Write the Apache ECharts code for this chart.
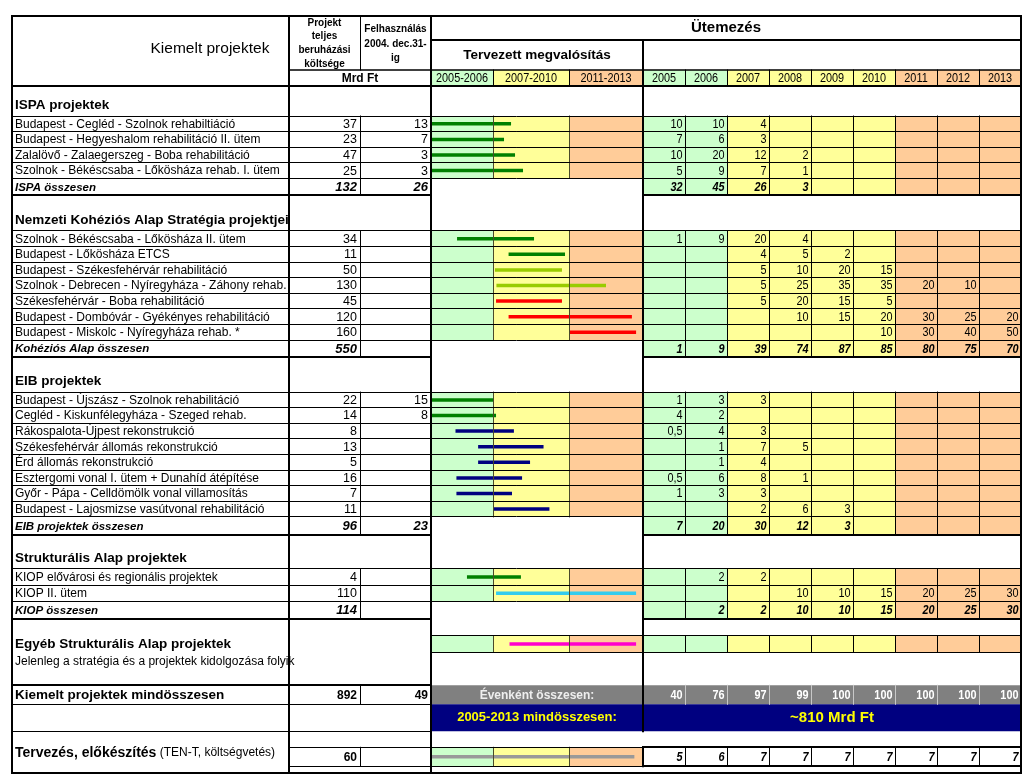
<!DOCTYPE html>
<html><head><meta charset="utf-8">
<script src="https://cdn.jsdelivr.net/npm/echarts@6/dist/echarts.min.js"></script>
<style>html,body{margin:0;padding:0;background:#fff}#c{width:1023px;height:776px}</style>
</head><body><div id="c"></div>
<script>
// ================= DATA =================
const years = ['2005','2006','2007','2008','2009','2010','2011','2012','2013'];
const periods = ['2005-2006','2007-2010','2011-2013'];
const periodStartYear = [2005, 2007, 2011, 2014];

const ispaTitle = 'ISPA projektek';
const ispaNames = ['Budapest - Cegléd - Szolnok rehabiltiáció','Budapest - Hegyeshalom rehabilitáció II. ütem','Zalalövő - Zalaegerszeg - Boba rehabilitáció','Szolnok - Békéscsaba - Lőkösháza rehab. I. ütem'];
const ispaCost = [37, 23, 47, 25];
const ispaUsed = [13, 7, 3, 3];
const ispaYearly = [
  [10,10,4,null,null,null,null,null,null],
  [7,6,3,null,null,null,null,null,null],
  [10,20,12,2,null,null,null,null,null],
  [5,9,7,1,null,null,null,null,null]];
const ispaStart = [2005, 2005, 2005, 2005];
const ispaEnd = [2007.95, 2007.58, 2008.16, 2008.58];
const ispaBarKind = ['green','green','green','green'];
const ispaTotal = ['ISPA összesen', 132, 26];
const ispaTotalYearly = [32,45,26,3,null,null,null,null,null];

const nkaTitle = 'Nemzeti Kohéziós Alap Stratégia projektjei';
const nkaNames = ['Szolnok - Békéscsaba - Lőkösháza II. ütem','Budapest - Lőkösháza ETCS','Budapest - Székesfehérvár rehabilitáció','Szolnok - Debrecen - Nyíregyháza - Záhony rehab.','Székesfehérvár - Boba rehabilitáció','Budapest - Dombóvár - Gyékényes rehabilitáció','Budapest - Miskolc - Nyíregyháza rehab. *'];
const nkaCost = [34, 11, 50, 130, 45, 120, 160];
const nkaYearly = [
  [1,9,20,4,null,null,null,null,null],
  [null,null,4,5,2,null,null,null,null],
  [null,null,5,10,20,15,null,null,null],
  [null,null,5,25,35,35,20,10,null],
  [null,null,5,20,15,5,null,null,null],
  [null,null,null,10,15,20,30,25,20],
  [null,null,null,null,null,10,30,40,50]];
const nkaStart = [2005.84, 2007.82, 2007.1, 2007.18, 2007.16, 2007.82, 2011.04];
const nkaEnd = [2009.16, 2010.79, 2010.63, 2012.5, 2010.63, 2013.55, 2013.72];
const nkaBarKind = ['green','green','lime','lime','red','red','red'];
const nkaTotal = ['Kohéziós Alap összesen', 550, null];
const nkaTotalYearly = [1,9,39,74,87,85,80,75,70];

const eibTitle = 'EIB projektek';
const eibNames = ['Budapest - Újszász - Szolnok rehabilitáció','Cegléd - Kiskunfélegyháza - Szeged rehab.','Rákospalota-Újpest rekonstrukció','Székesfehérvár állomás rekonstrukció','Érd állomás rekonstrukció','Esztergomi vonal I. ütem + Dunahíd átépítése','Győr - Pápa - Celldömölk vonal villamosítás','Budapest - Lajosmizse vasútvonal rehabilitáció'];
const eibCost = [22, 14, 8, 13, 5, 16, 7, 11];
const eibUsed = [15, 8, null, null, null, null, null, null];
const eibYearly = [
  [1,3,3,null,null,null,null,null,null],
  [4,2,null,null,null,null,null,null,null],
  [0.5,4,3,null,null,null,null,null,null],
  [null,1,7,5,null,null,null,null,null],
  [null,1,4,null,null,null,null,null,null],
  [0.5,6,8,1,null,null,null,null,null],
  [1,3,3,null,null,null,null,null,null],
  [null,null,2,6,3,null,null,null,null]];
const eibStart = [2005, 2005, 2005.79, 2006.52, 2006.52, 2005.82, 2005.82, 2007.05];
const eibEnd = [2007.05, 2007.16, 2008.1, 2009.66, 2008.95, 2008.53, 2008.0, 2009.97];
const eibBarKind = ['green','green','navy','navy','navy','navy','navy','navy'];
const eibTotal = ['EIB projektek összesen', 96, 23];
const eibTotalYearly = [7,20,30,12,3,null,null,null,null];

const kiopTitle = 'Strukturális Alap projektek';
const kiopNames = ['KIOP elővárosi és regionális projektek','KIOP II. ütem'];
const kiopCost = [4, 110];
const kiopYearly = [
  [null,2,2,null,null,null,null,null,null],
  [null,null,null,10,10,15,20,25,30]];
const kiopStart = [2006.16, 2007.16];
const kiopEnd = [2008.47, 2013.72];
const kiopBarKind = ['green','cyan'];
const kiopTotal = ['KIOP összesen', 114, null];
const kiopTotalYearly = [null,2,2,10,10,15,20,25,30];

const otherTitle = 'Egyéb Strukturális Alap projektek';
const otherNote = 'Jelenleg a stratégia és a projektek kidolgozása folyik';
const otherBar = [2007.87, 2013.72];
const otherBarKind = 'magenta';

const grandLabel = 'Kiemelt projektek mindösszesen';
const grandCost = 892;
const grandUsed = 49;
const perYearLabel = 'Évenként összesen:';
const perYearTotal = [40,76,97,99,100,100,100,100,100];
const overallLabel = '2005-2013 mindösszesen:';
const overallValue = '~810 Mrd Ft';

const planBold = 'Tervezés, előkészítés';
const planNote = '(TEN-T, költségvetés)';
const planCost = 60;
const planYearly = [5,6,7,7,7,7,7,7,7];
const planBar = [2005.03, 2013.65];
const planBarKind = 'gray';

const headTitle = 'Kiemelt projektek';
const headCost = ['Projekt','teljes','beruházási','költsége'];
const headUsed = ['Felhasználás','2004. dec.31-','ig'];
const headUnit = 'Mrd Ft';
const headSchedule = 'Ütemezés';
const headPlanned = 'Tervezett megvalósítás';

// ================= STYLE / LAYOUT =================
const W = 1023, H = 776;
const X0 = 12, XN = 289, XC = 360, XU = 431, XG = 643, X1 = 1021;
const periodX = [431, 493, 569, 643];
const YW = (X1 - XG) / years.length;
const PFILL = ['#CCFFCC', '#FFFF99', '#FFCC99'];
const BARCOL = {green:'#008000', lime:'#99CC00', red:'#FF0000', navy:'#000080', cyan:'#33CCEE', magenta:'#FF00CC', gray:'#999999'};
const SANS = "'Liberation Sans', Arial, sans-serif";
const NSX = 0.87; // horizontal squeeze for the condensed number font
const DIV = '#4a4a2a';
function F(size, weight, style) { return (style||'normal') + ' ' + (weight||'normal') + ' ' + size + 'px ' + SANS; }
function fmt(v) { return v == null ? '' : String(v).replace('.', ','); }
function yx(i) { return XG + i * YW; }
function periodOfYear(yr) { for (let p = 0; p < 3; p++) if (yr < periodStartYear[p+1]) return p; return 2; }
function yearToX(y) {
  let p = 0;
  while (p < 2 && y > periodStartYear[p+1]) p++;
  const f = (y - periodStartYear[p]) / (periodStartYear[p+1] - periodStartYear[p]);
  return periodX[p] + f * (periodX[p+1] - periodX[p]);
}

const rects = [], lines = [], texts = [], bars = [];
function R(x0,y0,x1,y1,fill){ rects.push({x0,y0,x1,y1,fill}); }
function LH(y,x0,x1,w,c){ lines.push({x0,y0:y,x1,y1:y,w:w||1,c:c||'#000'}); }
function LV(x,y0,y1,w,c){ lines.push({x0:x,y0,x1:x,y1,w:w||1,c:c||'#000'}); }
function T(x,y,text,font,opt){ opt=opt||{}; texts.push({x,y,text,font,color:opt.color||'#000',align:opt.align||'left',rich:opt.rich,sx:opt.sx||1}); }

// ---- header ----
T((X0+XN)/2, 49, headTitle, F(15.5));
headCost.forEach((s,i)=>T((XN+XC)/2, 23 + i*13.6, s, F(10,'bold'), {align:'center'}));
headUsed.forEach((s,i)=>T((XC+XU)/2, 29 + i*14.8, s, F(10,'bold'), {align:'center'}));
T((XN+XU)/2, 79, headUnit, F(12,'bold'), {align:'center'});
T((XU+X1)/2, 28, headSchedule, F(15,'bold'), {align:'center'});
T((XU+XG)/2, 55, headPlanned, F(13.5,'bold'), {align:'center'});
periods.forEach((p,i)=>{ R(periodX[i],70,periodX[i+1],86,PFILL[i]); T((periodX[i]+periodX[i+1])/2,78.5,p,F(12.5),{align:'center',sx:NSX}); if(i>0) LV(periodX[i],70,86,1); });
years.forEach((y,i)=>{ R(yx(i),70,yx(i+1),86,PFILL[periodOfYear(+y)]); T((yx(i)+yx(i+1))/2,78.5,y,F(12.5),{align:'center',sx:NSX}); if(i>0) LV(yx(i),70,86,1); });
LH(40, XU, X1, 2);
LH(70, XN, X1, 1.5);
LV(XC, 16, 70, 1);
LV(XG, 40, 86, 2);

// ---- body rows ----
let cy = 86;
function section(title, h) {
  T(X0+3, cy + h - 11, title, F(13.5,'bold'));
  cy += h;
}
function ganttCells(y0,y1){
  for (let p=0;p<3;p++) R(periodX[p],y0,periodX[p+1],y1,PFILL[p]);
  LV(periodX[1],y0,y1,1,DIV); LV(periodX[2],y0,y1,1,DIV);
}
function yearCells(y0,y1,vals,font,fill){
  years.forEach((y,i)=>{
    if (fill) R(yx(i),y0,yx(i+1),y1,PFILL[periodOfYear(+y)]);
    if (i>0) LV(yx(i),y0,y1,1);
    if (vals && vals[i]!=null) T(yx(i+1)-2.5,(y0+y1)/2+0.5,fmt(vals[i]),font,{align:'right',sx:NSX});
  });
}
function items(names,cost,used,yearly,start,end,kinds,h){
  names.forEach((n,i)=>{
    const y0=cy,y1=cy+h,m=(y0+y1)/2;
    ganttCells(y0,y1);
    yearCells(y0,y1,yearly[i],F(12.5),true);
    LH(y0,X0,X1,1); LH(y1,X0,X1,1);
    LV(XC,y0,y1,1);
    T(X0+3,m+0.5,n,F(12));
    T(XC-3,m+0.5,fmt(cost[i]),F(12.5),{align:'right'});
    if (used && used[i]!=null) T(XU-3,m+0.5,fmt(used[i]),F(12.5),{align:'right'});
    bars.push({v:[start[i],end[i],m],kind:kinds[i]});
    cy=y1;
  });
}
function total(t,yearly,h){
  const y0=cy,y1=cy+h,m=(y0+y1)/2;
  yearCells(y0,y1,yearly,F(12.5,'bold','italic'),true);
  LH(y1,X0,XU,2); LH(y1,XG,X1,2);
  LV(XC,y0,y1,1);
  T(X0+3,m+0.5,t[0],F(11.5,'bold','italic'));
  if (t[1]!=null) T(XC-3,m+0.5,fmt(t[1]),F(13,'bold','italic'),{align:'right'});
  if (t[2]!=null) T(XU-3,m+0.5,fmt(t[2]),F(13,'bold','italic'),{align:'right'});
  cy=y1;
}

section(ispaTitle, 30);
items(ispaNames, ispaCost, ispaUsed, ispaYearly, ispaStart, ispaEnd, ispaBarKind, 15.6);
total(ispaTotal, ispaTotalYearly, 17);
section(nkaTitle, 35.5);
items(nkaNames, nkaCost, null, nkaYearly, nkaStart, nkaEnd, nkaBarKind, 15.6);
total(nkaTotal, nkaTotalYearly, 17);
section(eibTitle, 35);
items(eibNames, eibCost, eibUsed, eibYearly, eibStart, eibEnd, eibBarKind, 15.6);
total(eibTotal, eibTotalYearly, 18);
section(kiopTitle, 34);
items(kiopNames, kiopCost, null, kiopYearly, kiopStart, kiopEnd, kiopBarKind, 16.2);
total(kiopTotal, kiopTotalYearly, 17.5);

// other structural projects block
{
  const y0 = cy + 17, y1 = y0 + 16.5, m = (y0+y1)/2;
  ganttCells(y0,y1);
  yearCells(y0,y1,null,null,true);
  LH(y0,XU,X1,1); LH(y1,XU,X1,1);
  T(X0+3, m, otherTitle, F(13.5,'bold'));
  T(X0+3, m+18, otherNote, F(12));
  bars.push({v:[otherBar[0],otherBar[1],m],kind:otherBarKind});
  cy = y1 + 33;
}
// grand total row
{
  const y0 = cy, y1 = cy + 19, m = (y0+y1)/2;
  R(XU,y0,X1,y1,'#808080');
  years.forEach((y,i)=>{ if(i>0) LV(yx(i),y0,y1,1,'#C8C8C8'); T(yx(i+1)-2.5,m+0.5,fmt(perYearTotal[i]),F(12.5,'bold'),{align:'right',color:'#FFFFFF',sx:NSX}); });
  LV(XG,y0,y1,1,'#C8C8C8');
  T((XU+XG)/2, m+0.5, perYearLabel, F(12,'bold'), {align:'center', color:'#EEEEEE'});
  LH(y0,X0,XU,2); LH(y1,X0,XU,1);
  LV(XC,y0,y1,1);
  T(X0+3, m, grandLabel, F(13.5,'bold'));
  T(XC-3, m+0.5, fmt(grandCost), F(12,'bold'), {align:'right'});
  T(XU-3, m+0.5, fmt(grandUsed), F(12,'bold'), {align:'right'});
  cy = y1;
}
// overall row
{
  const y0 = cy, y1 = cy + 27, m = (y0+y1)/2;
  R(XU,y0,X1,y1,'#000080');
  LV(XG,y0,y1,1,'#000040');
  T((XU+XG)/2, m, overallLabel, F(13,'bold'), {align:'center', color:'#FFFF00'});
  T((XG+X1)/2, m, overallValue, F(15,'bold'), {align:'center', color:'#FFFF00'});
  LH(y1,X0,XU,1);
  cy = y1;
}
// planning row
{
  const top = cy;
  const y0 = cy + 16, y1 = y0 + 19, m = (y0+y1)/2;
  ganttCells(y0,y1);
  yearCells(y0,y1,planYearly,F(12.5,'bold','italic'),false);
  LH(y0,XN,XG,1); LH(y1,XN,XG,1);
  LH(y0,XG,X1,2); LH(y1,XG,X1,2);
  LV(XC,y0,y1,1);
  T(X0+3, m-4, '{b|' + planBold + '} {n|' + planNote + '}', F(12), {rich:{b:{fontFamily:SANS,fontSize:14,fontWeight:'bold'}, n:{fontFamily:SANS,fontSize:12}}});
  T(XC-3, m+0.5, fmt(planCost), F(12,'bold'), {align:'right'});
  bars.push({v:[planBar[0],planBar[1],m],kind:planBarKind});
  LV(XG, 86, top, 2);
  LV(XG, y0, y1, 2);
}
// main frame
LH(86, X0, X1, 2);
LV(XN, 16, 773, 2);
LV(XU, 16, 773, 2);
LH(16, X0, X1, 2);
LH(773, X0, X1, 2);
LV(X0, 16, 773, 2);
LV(X1, 16, 773, 2);

// ================= RENDER =================
function crisp(v, w) { return (Math.round(w) % 2 === 1) ? Math.floor(v) + 0.5 : Math.round(v); }
const chart = echarts.init(document.getElementById('c'), null, {renderer:'canvas'});
chart.setOption({
  animation: false,
  backgroundColor: '#ffffff',
  grid: {left:0, right:0, top:0, bottom:0},
  xAxis: {type:'value', min:0, max:W, show:false},
  yAxis: {type:'value', min:0, max:H, inverse:true, show:false},
  series: [
    { type:'custom', z:1, silent:true, data: rects.map(r=>[r.x0,r.y0,r.x1,r.y1]),
      renderItem: function(params, api){
        const r = rects[params.dataIndex];
        const a = api.coord([api.value(0), api.value(1)]), b = api.coord([api.value(2), api.value(3)]);
        return {type:'rect', shape:{x:a[0], y:a[1], width:b[0]-a[0], height:b[1]-a[1]}, style:{fill:r.fill}};
      }},
    { type:'custom', z:2, silent:true, data: bars.map(b=>b.v),
      renderItem: function(params, api){
        const k = bars[params.dataIndex].kind;
        const a = api.coord([yearToX(api.value(0)), api.value(2)]);
        const b = api.coord([yearToX(api.value(1)), api.value(2)]);
        return {type:'line', shape:{x1:a[0], y1:a[1], x2:b[0], y2:b[1]}, style:{stroke:BARCOL[k], lineWidth:3.5, lineCap:'butt'}};
      }},
    { type:'custom', z:3, silent:true, data: lines.map(l=>[l.x0,l.y0,l.x1,l.y1]),
      renderItem: function(params, api){
        const l = lines[params.dataIndex];
        const a = api.coord([api.value(0), api.value(1)]), b = api.coord([api.value(2), api.value(3)]);
        let x1=a[0], y1=a[1], x2=b[0], y2=b[1];
        if (y1 === y2) { y1 = y2 = crisp(y1, l.w); } else { x1 = x2 = crisp(x1, l.w); }
        return {type:'line', shape:{x1, y1, x2, y2}, style:{stroke:l.c, lineWidth:l.w, lineCap:'square'}};
      }},
    { type:'custom', z:4, silent:true, data: texts.map(t=>[t.x,t.y]),
      renderItem: function(params, api){
        const t = texts[params.dataIndex];
        const a = api.coord([api.value(0), api.value(1)]);
        return {type:'text', x:a[0], y:a[1], scaleX:t.sx, style:{text:t.text, font:t.font, fill:t.color, align:t.align, verticalAlign:'middle', rich:t.rich}};
      }}
  ]
});
</script></body></html>
